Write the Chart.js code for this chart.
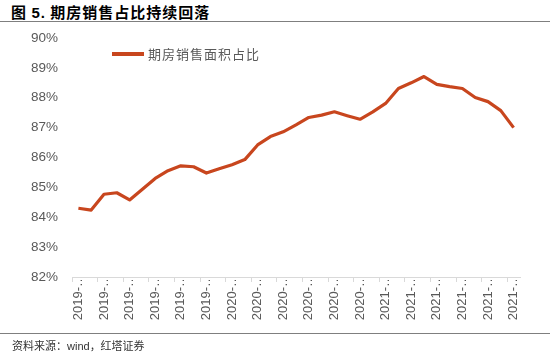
<!DOCTYPE html>
<html>
<head>
<meta charset="utf-8">
<script src="https://cdn.jsdelivr.net/npm/chart.js@4"></script>
<style>
  body { margin: 0; background: #fff; }
  #wrap { position: relative; width: 550px; height: 359px; overflow: hidden; }
  #title {
    position: absolute; left: 11px; top: 1px;
    font: bold 15px "Noto Sans CJK SC", sans-serif; letter-spacing: 1px; color: #000;
  }
  #title b { font-family: "Liberation Sans", Arial, sans-serif; }
  .rule { position: absolute; left: 0; width: 550px; height: 0; border-top: 1px solid #7f7f7f; }
  #source {
    position: absolute; left: 12px; top: 337px;
    font: 11px "Noto Sans CJK SC", sans-serif; color: #333;
  }
  #source span { font-family: "Liberation Sans", Arial, sans-serif; }
  #legend {
    position: absolute; left: 112px; top: 44px;
    font: 13px "Noto Sans CJK SC", sans-serif; letter-spacing: 1px; color: #595959;
    display: flex; align-items: center;
  }
  #legend i { display: inline-block; width: 32px; height: 4px; margin-right: 4px; }
  canvas { position: absolute; left: 0; top: 0; }
</style>
</head>
<body>
<div id="wrap">
  <div id="title">图 <b>5.</b> 期房销售占比持续回落</div>
  <div class="rule" style="top:21px"></div>
  <canvas id="chart" width="550" height="359"></canvas>
  <div id="legend"></div>
  <div class="rule" style="top:333px"></div>
  <div id="source">资料来源：<span>wind</span>，红塔证券</div>
</div>
<script>
const seriesName = "期房销售面积占比";
const lineColor = "#c8461e";

const months = [
  "2019-01", "2019-02", "2019-03", "2019-04", "2019-05", "2019-06",
  "2019-07", "2019-08", "2019-09", "2019-10", "2019-11", "2019-12",
  "2020-01", "2020-02", "2020-03", "2020-04", "2020-05", "2020-06",
  "2020-07", "2020-08", "2020-09", "2020-10", "2020-11", "2020-12",
  "2021-01", "2021-02", "2021-03", "2021-04", "2021-05", "2021-06",
  "2021-07", "2021-08", "2021-09", "2021-10", "2021-11",
];

// share of off-plan sales, %
const shareValues = [
  84.30, 84.24, 84.77, 84.82, 84.58, 84.94, 85.30, 85.56, 85.72, 85.69,
  85.48, 85.62, 85.76, 85.93, 86.42, 86.70, 86.86, 87.09, 87.34, 87.42,
  87.53, 87.40, 87.28, 87.53, 87.81, 88.31, 88.50, 88.71, 88.45, 88.37,
  88.31, 88.01, 87.87, 87.57, 87.00,
];

const yMin = 82;
const yMax = 90;
const yStep = 1;

document.getElementById("legend").innerHTML =
  '<i style="background:' + lineColor + '"></i>' + seriesName;

Chart.defaults.font.family = '"Liberation Sans", Arial, sans-serif';
Chart.defaults.color = "#595959";

new Chart(document.getElementById("chart"), {
  type: "line",
  data: {
    labels: months,
    datasets: [
      {
        label: seriesName,
        data: shareValues,
        borderColor: lineColor,
        backgroundColor: lineColor,
        borderWidth: 3.2,
        pointRadius: 0,
        tension: 0,
        borderJoinStyle: "round",
      },
    ],
  },
  options: {
    responsive: false,
    animation: false,
    layout: { padding: { top: 38, left: 0, right: 30, bottom: 0 } },
    plugins: {
      legend: { display: false },
      tooltip: { enabled: false },
    },
    scales: {
      x: {
        offset: true,
        afterFit: function (scale) { scale.height = 82; },
        border: { display: true, color: "#d9d9d9", width: 1 },
        grid: {
          display: true,
          offset: true,
          drawOnChartArea: false,
          drawTicks: true,
          tickLength: 5,
          color: function (ctx) { return ctx.index % 2 === 0 ? "#d9d9d9" : "rgba(0,0,0,0)"; },
        },
        ticks: {
          autoSkip: false,
          minRotation: 90,
          maxRotation: 90,
          padding: -8,
          font: { size: 13 },
          color: "#595959",
          callback: function (value, index) {
            if (index % 2 !== 0) return "";
            return months[index].slice(0, 5) + "…";
          },
        },
      },
      y: {
        min: yMin,
        max: yMax,
        afterFit: function (scale) { scale.width = 72; },
        border: { display: false },
        grid: { display: false, drawTicks: false },
        ticks: {
          stepSize: yStep,
          padding: 14,
          font: { size: 13.5 },
          color: "#595959",
          callback: function (value) { return value + "%"; },
        },
      },
    },
  },
});
</script>
</body>
</html>
